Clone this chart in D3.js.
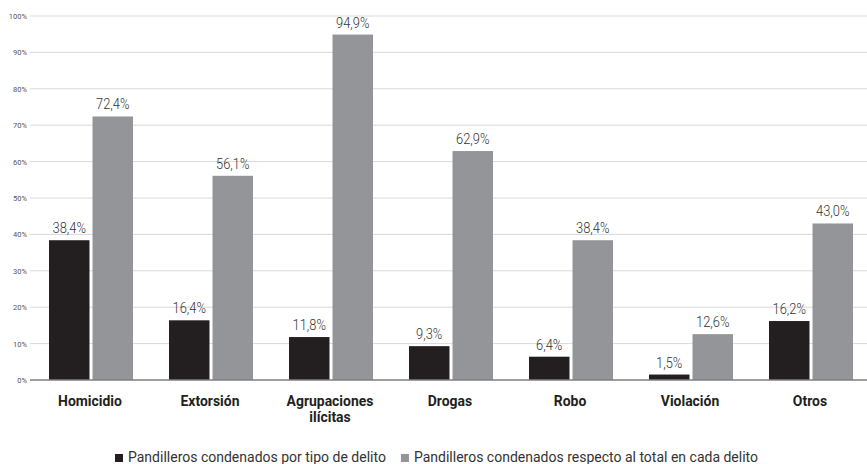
<!DOCTYPE html>
<html>
<head>
<meta charset="utf-8">
<script src="https://cdn.jsdelivr.net/npm/d3@7"></script>
<style>
  html, body { margin: 0; padding: 0; background: #fff; }
  svg { display: block; font-family: Roboto, "Noto Sans", sans-serif; }
</style>
</head>
<body>
<svg id="chart" width="867" height="464"></svg>
<script>
// Delitos y porcentajes de pandilleros condenados
const categories = ["Homicidio", "Extorsión", "Agrupaciones ilícitas", "Drogas", "Robo", "Violación", "Otros"];
const porTipo = [38.4, 16.4, 11.8, 9.3, 6.4, 1.5, 16.2];
const respectoTotal = [72.4, 56.1, 94.9, 62.9, 38.4, 12.6, 43.0];
const seriesNames = ["Pandilleros condenados por tipo de delito", "Pandilleros condenados respecto al total en cada delito"];
const seriesColors = ["#231f20", "#939598"];
const yTicks = [0, 10, 20, 30, 40, 50, 60, 70, 80, 90, 100];

const svg = d3.select("#chart");
const margin = { left: 30, top: 16, bottom: 84 };
const W = 867, H = 464;

const x = d3.scaleBand().domain(categories).range([margin.left, margin.left + 840]);
const inner = d3.scaleBand().domain([0, 1]).range([19, 103]).paddingInner(0.07);
const y = d3.scaleLinear().domain([0, 100]).range([H - margin.bottom, margin.top]);

const fmt = v => v.toFixed(1).replace(".", ",") + "%";

// gridlines
svg.append("g").selectAll("line").data(yTicks.filter(t => t > 0)).join("line")
  .attr("x1", margin.left).attr("x2", W)
  .attr("y1", d => y(d)).attr("y2", d => y(d))
  .attr("stroke", "#d9d9d9").attr("stroke-width", 1);

// y tick labels
const yAxis = d3.axisLeft(y).tickValues(yTicks).tickFormat(d => d + "%").tickSize(0).tickPadding(3);
const yg = svg.append("g").attr("transform", `translate(${margin.left},0)`).call(yAxis);
yg.select(".domain").remove();
yg.selectAll("text").attr("font-size", 7.5).attr("fill", "#555").attr("font-family", "Roboto");

// bars and value labels
const series = [porTipo, respectoTotal];
series.forEach((vals, si) => {
  const g = svg.append("g");
  g.selectAll("rect").data(categories).join("rect")
    .attr("x", c => x(c) + inner(si))
    .attr("width", inner.bandwidth())
    .attr("y", (c, i) => y(vals[i]))
    .attr("height", (c, i) => y(0) - y(vals[i]))
    .attr("fill", seriesColors[si]);
  g.selectAll("text").data(categories).join("text")
    .attr("transform", (c, i) => `translate(${x(c) + inner(si) + inner.bandwidth() / 2},${y(vals[i]) - 7}) scale(0.92,1)`)
    .attr("text-anchor", "middle")
    .attr("font-size", 14).attr("font-weight", 300).attr("fill", "#333")
    .text((c, i) => fmt(vals[i]));
});

// baseline
svg.append("line").attr("x1", margin.left).attr("x2", W)
  .attr("y1", y(0)).attr("y2", y(0))
  .attr("stroke", "#7f7f7f").attr("stroke-width", 1.3);

// category labels (long names wrap onto two lines)
const catG = svg.append("g");
categories.forEach(c => {
  const words = c === "Agrupaciones ilícitas" ? ["Agrupaciones", "ilícitas"] : [c];
  const t = catG.append("text")
    .attr("transform", `translate(${x(c) + x.bandwidth() / 2},${y(0) + 26}) scale(0.93,1)`)
    .attr("text-anchor", "middle")
    .attr("font-size", 15).attr("font-weight", 700).attr("fill", "#231f20");
  words.forEach((w, k) => {
    t.append("tspan").attr("x", 0).attr("dy", k === 0 ? 0 : 16).text(w);
  });
});

// legend
let lx = 115;
seriesNames.forEach((n, i) => {
  svg.append("rect").attr("x", lx).attr("y", 454).attr("width", 8).attr("height", 8).attr("fill", seriesColors[i]);
  const t = svg.append("text")
    .attr("x", lx + 13).attr("y", 462)
    .attr("font-size", 14).attr("fill", "#333")
    .text(n);
  lx += 13 + t.node().getComputedTextLength() + 15;
});
</script>
</body>
</html>
